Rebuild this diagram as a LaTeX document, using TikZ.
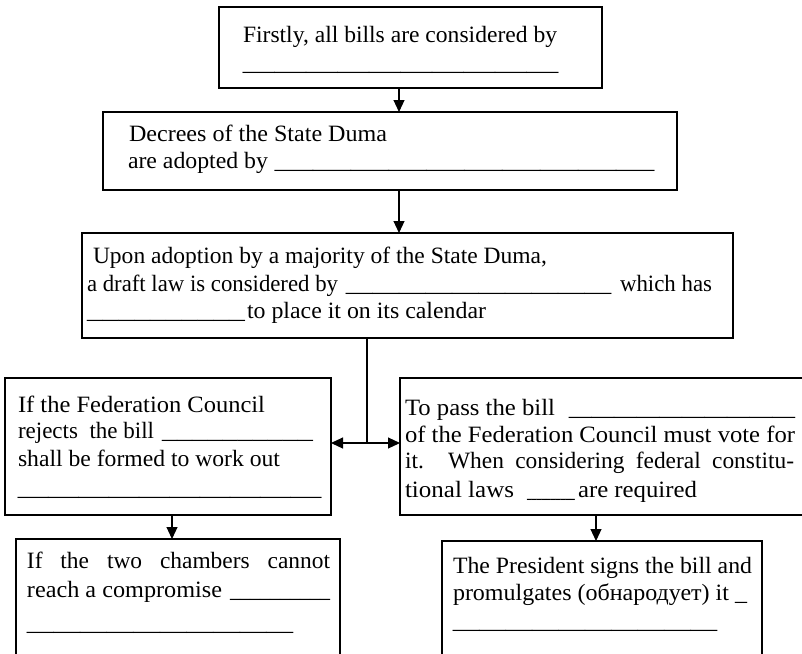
\documentclass[tikz,border=0pt]{standalone}
\usepackage{fontspec}
\setmainfont{Liberation Serif}
\usepackage{graphicx}
\usetikzlibrary{arrows.meta}
\newcommand\fl[2]{\resizebox*{#1}{\totalheight}{#2}}
\newcommand\fj[2]{\makebox[#1][s]{#2}}
\newcommand\uline[1]{\resizebox*{#1}{\totalheight}{\_\_\_\_\_\_\_\_\_\_}}
\newcommand\fsz{\fontsize{23.4}{28}\selectfont}
\begin{document}
\begin{tikzpicture}[x=1pt,y=-1pt,
  box/.style={draw=black, line width=1.2pt, rectangle, inner sep=0pt, outer sep=0pt, anchor=north west},
  txt/.style={anchor=base west, inner sep=0pt, outer sep=0pt, font=\fsz},
  arr/.style={line width=1.1pt, -{Triangle[length=12pt,width=11pt]}},
  link/.style={line width=1.1pt}]
\useasboundingbox (0,0) rectangle (802,653);
\clip (0,0) rectangle (802,653);
% boxes
\node[box, minimum width=383pt, minimum height=81pt] (b1) at (219,7) {};
\node[box, minimum width=574pt, minimum height=78pt] (b2) at (103,112) {};
\node[box, minimum width=651pt, minimum height=105pt] (b3) at (82,233) {};
\node[box, minimum width=326pt, minimum height=137pt] (b4) at (5,378) {};
\node[box, minimum width=420pt, minimum height=137pt] (b5) at (400,378) {};
\node[box, minimum width=324pt, minimum height=160pt] (b6) at (16,539) {};
\node[box, minimum width=320pt, minimum height=160pt] (b7) at (442,541) {};
% box 1 text
\node[txt] (t1a) at (243,42) {\fl{314pt}{Firstly, all bills are considered by}};
\node[txt] (t1b) at (243,70) {\uline{315pt}};
% box 2 text
\node[txt] (t2a) at (129,141) {\fl{258pt}{Decrees of the State Duma}};
\node[txt] (t2b) at (128,168) {\fl{140pt}{are adopted by}\hspace{7pt}\uline{379pt}};
% box 3 text
\node[txt] (t3a) at (93,263) {\fl{454pt}{Upon adoption by a majority of the State Duma,}};
\node[txt] (t3b) at (87,291) {\fl{251pt}{a draft law is considered by}\hspace{8pt}\uline{265pt}\hspace{9pt}\fl{92pt}{which has}};
\node[txt] (t3c) at (87,318) {\uline{158pt}\hspace{2pt}\fl{239pt}{to place it on its calendar}};
% box 4 text
\node[txt] (t4a) at (18,412) {\fl{247pt}{If the Federation Council}};
\node[txt] (t4b) at (18,438) {\fl{136pt}{rejects\ \ the bill}\hspace{8pt}\uline{151pt}};
\node[txt] (t4c) at (18,466) {\fl{262pt}{shall be formed to work out}};
\node[txt] (t4d) at (18,495) {\uline{303pt}};
% box 5 text
\node[txt] (t5a) at (405,415) {\fl{150pt}{To pass the bill}\hspace{14pt}\uline{226pt}};
\node[txt] (t5b) at (405,442) {\fl{390pt}{of the Federation Council must vote for}};
\node[txt] (t5c) at (405,468) {\fj{389pt}{it. When considering federal constitu-}};
\node[txt] (t5d) at (405,497) {\fl{109pt}{tional laws}\hspace{13pt}\uline{48pt}\hspace{3pt}\fl{119pt}{are required}};
% box 6 text
\node[txt] (t6a) at (27,568) {\fj{303pt}{If the two chambers cannot}};
\node[txt] (t6b) at (27,597) {\fl{195pt}{reach a compromise}\hspace{8pt}\uline{100pt}};
\node[txt] (t6c) at (27,630) {\uline{266pt}};
% box 7 text
\node[txt] (t7a) at (453,573) {\fl{299pt}{The President signs the bill and}};
\node[txt] (t7b) at (453,600) {\fl{294pt}{promulgates (обнародует) it \_}};
\node[txt] (t7c) at (453,628) {\uline{264pt}};
% connectors
\coordinate (xa) at (399,0);
\coordinate (xl) at (172,0);
\coordinate (xr) at (596,0);
\coordinate (j) at (367,443);
\draw[arr] (xa |- b1.south) -- (xa |- b2.north);
\draw[arr] (xa |- b2.south) -- (xa |- b3.north);
\draw[link] (j |- b3.south) -- (j);
\draw[arr] (j) -- (j -| b4.east);
\draw[arr] (j) -- (j -| b5.west);
\draw[arr] (xl |- b4.south) -- (xl |- b6.north);
\draw[arr] (xr |- b5.south) -- (xr |- b7.north);
\end{tikzpicture}
\end{document}
